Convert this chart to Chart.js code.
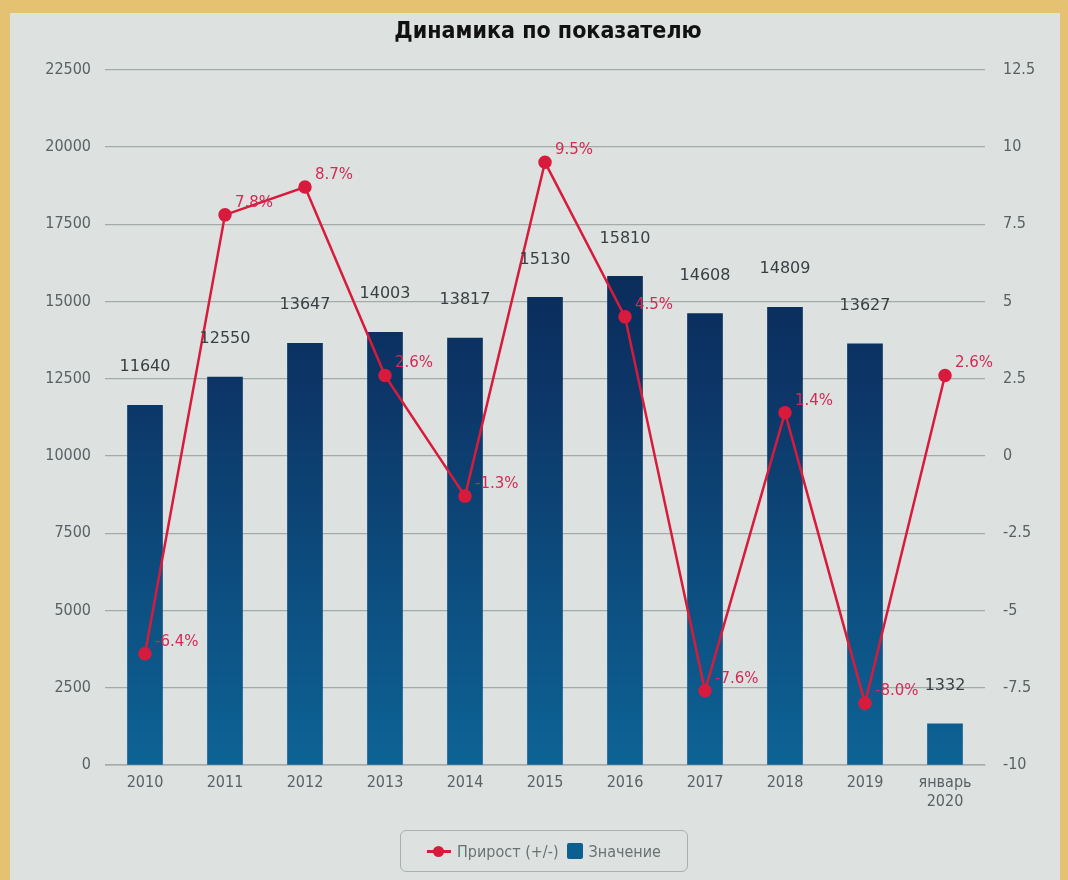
<!DOCTYPE html>
<html lang="ru">
<head>
<meta charset="utf-8">
<script src="https://cdn.jsdelivr.net/npm/chart.js@4/dist/chart.umd.min.js"></script>
<style>
  html, body { margin: 0; padding: 0; }
  body { width: 1068px; height: 880px; background: #e4c271; position: relative; overflow: hidden; }
  #panel { position: absolute; left: 10px; top: 13px; width: 1050px; height: 867px; background: #dde2e0; }
  #chart { position: absolute; left: 0; top: 0; }
  #legend {
    position: absolute; left: 400px; top: 830px; width: 288px; height: 42px;
    border: 1px solid #a9b0ae; border-radius: 6px; box-sizing: border-box;
    display: flex; align-items: center; justify-content: center; gap: 8px;
    font: 16px "DejaVu Sans Condensed", "DejaVu Sans", sans-serif; color: #6a7074;
  }
  .li { display: flex; align-items: center; gap: 6px; }
  .mk-line { position: relative; width: 24px; height: 3px; background: #d81b3c; }
  .mk-line::after { content: ""; position: absolute; left: 6px; top: -4px; width: 11px; height: 11px; border-radius: 50%; background: #d81b3c; }
  .mk-box { width: 16px; height: 16px; background: #0d5f8f; border-radius: 2px; }
</style>
</head>
<body>
<div id="panel"></div>
<canvas id="chart" width="1068" height="880"></canvas>
<div id="legend">
  <span class="li"><span class="mk-line"></span>Прирост (+/-)</span>
  <span class="li"><span class="mk-box"></span>Значение</span>
</div>
<script>
const categories = ['2010', '2011', '2012', '2013', '2014', '2015', '2016', '2017', '2018', '2019', ['январь', '2020']];
const values = [11640, 12550, 13647, 14003, 13817, 15130, 15810, 14608, 14809, 13627, 1332];
const growth = [-6.4, 7.8, 8.7, 2.6, -1.3, 9.5, 4.5, -7.6, 1.4, -8.0, 2.6];

const tickFont = { family: '"DejaVu Sans Condensed", "DejaVu Sans", sans-serif', size: 16 };

const labelPlugin = {
  id: 'valueLabels',
  afterDatasetsDraw(chart) {
    const ctx = chart.ctx;
    ctx.save();
    ctx.font = '16px "DejaVu Sans", sans-serif';
    ctx.fillStyle = '#3a3f44';
    ctx.textAlign = 'center';
    ctx.textBaseline = 'middle';
    chart.getDatasetMeta(1).data.forEach((el, i) => {
      ctx.fillText(String(values[i]), el.x, el.y - 38);
    });
    ctx.font = '15px "DejaVu Sans", sans-serif';
    ctx.fillStyle = '#d42a55';
    ctx.textAlign = 'left';
    chart.getDatasetMeta(0).data.forEach((el, i) => {
      ctx.fillText(growth[i].toFixed(1) + '%', el.x + 10, el.y - 12);
    });
    ctx.restore();
  }
};

const ctx = document.getElementById('chart').getContext('2d');
new Chart(ctx, {
  data: {
    labels: categories,
    datasets: [
      {
        type: 'line',
        label: 'Прирост (+/-)',
        data: growth,
        yAxisID: 'y1',
        borderColor: '#d81b3c',
        backgroundColor: '#d81b3c',
        borderWidth: 2.5,
        pointRadius: 5.5,
        pointHoverRadius: 5.5,
        tension: 0,
        order: 0
      },
      {
        type: 'bar',
        label: 'Значение',
        data: values,
        yAxisID: 'y',
        backgroundColor(c) {
          const area = c.chart.chartArea;
          if (!area) return '#0d4f80';
          const g = c.chart.ctx.createLinearGradient(0, area.top, 0, area.bottom);
          g.addColorStop(0, '#071c45');
          g.addColorStop(0.45, '#0c3566');
          g.addColorStop(1, '#0d6395');
          return g;
        },
        barThickness: 35,
        order: 1
      }
    ]
  },
  options: {
    responsive: false,
    animation: false,
    layout: { padding: { top: 8, left: 30, right: 2, bottom: 55 } },
    plugins: {
      legend: { display: false },
      tooltip: { enabled: false },
      title: {
        display: true,
        text: 'Динамика по показателю',
        color: '#111',
        font: { family: '"DejaVu Sans Condensed", "DejaVu Sans", sans-serif', size: 23, weight: 'bold' },
        padding: { top: 10, bottom: 24 }
      }
    },
    scales: {
      x: {
        grid: { display: false, drawTicks: false },
        border: { color: '#b8bfbd' },
        ticks: { color: '#5a6064', font: tickFont, padding: 8, maxRotation: 0 },
        afterFit(s) { s.height = 60; }
      },
      y: {
        position: 'left',
        min: 0, max: 22500,
        ticks: { stepSize: 2500, color: '#5a6064', font: tickFont, padding: 14, callback: v => String(v) },
        grid: { color: '#a4aaa8', lineWidth: 1.2, drawTicks: false },
        border: { display: false },
        afterFit(s) { s.width = 75; }
      },
      y1: {
        position: 'right',
        min: -10, max: 12.5,
        ticks: { stepSize: 2.5, color: '#5a6064', font: tickFont, padding: 18, callback: v => String(v) },
        grid: { drawOnChartArea: false, drawTicks: false },
        border: { display: false },
        afterFit(s) { s.width = 81; }
      }
    }
  },
  plugins: [labelPlugin]
});
</script>
</body>
</html>
